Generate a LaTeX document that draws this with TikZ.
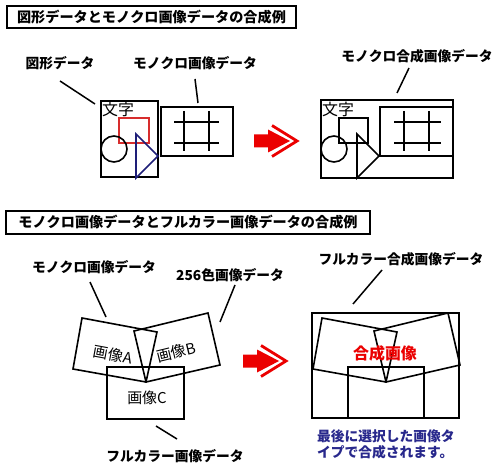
\documentclass[tikz,border=0pt]{standalone}
\usepackage{fontspec}
\setmainfont{Noto Sans CJK JP}
\definecolor{arrowred}{RGB}{235,0,0}
\definecolor{sqred}{RGB}{215,45,45}
\definecolor{navyline}{RGB}{30,30,120}
\definecolor{bluetext}{RGB}{40,40,140}
\tikzset{
  outl/.style={draw=black, line width=1.6bp},
  titlebox/.style={draw=black, line width=1.6bp, inner sep=0pt, font=\fontsize{14.2}{16}\selectfont\bfseries},
  lbl/.style={inner sep=0pt, font=\fontsize{13.8}{16}\selectfont\bfseries},
  imglbl/.style={inner sep=0pt, font=\fontsize{15}{17}\selectfont},
  leader/.style={draw=black, line width=1.5bp},
  gridline/.style={draw=black, line width=2bp},
  bigarrow/.pic={
    \fill[arrowred] (-14,-6.5) -- (0,-6.5) -- (0,-11.5) -- (22,0) -- (0,11.5) -- (0,6.5) -- (-14,6.5) -- cycle;
    \draw[arrowred, line width=2.8bp, line join=miter] (4,-15.5) -- (29,0) -- (4,15.5);
  }
}
\begin{document}
\begin{tikzpicture}[x=1bp,y=-1bp]
\useasboundingbox (0,0) rectangle (500,468);
\fill[white] (0,0) rectangle (500,468);

% ---------- Part 1 ----------
\node[titlebox, minimum width=289bp, minimum height=22bp] (t1) at (151.5,17) {図形データとモノクロ画像データの合成例};

\node[lbl] (lgfx) at (60,63) {図形データ};
\node[lbl] (lmono) at (195,63) {モノクロ画像データ};
\node[lbl] (lmix) at (417,56) {モノクロ合成画像データ};

\coordinate (g1a) at (60,81);  \coordinate (g1b) at (95,104);
\coordinate (m1a) at (195,79); \coordinate (m1b) at (198,103);
\coordinate (x1a) at (409,68); \coordinate (x1b) at (397,93);
\draw[leader] (g1a) -- (g1b);
\draw[leader] (m1a) -- (m1b);
\draw[leader] (x1a) -- (x1b);

% graphic data
\draw[outl] (101,101) rectangle (158,177);
\node[imglbl, anchor=north west, font=\fontsize{16}{18}\selectfont] (moji1) at (102,102) {文字};
\draw[draw=sqred, line width=1.6bp] (119,118) rectangle (149,143);
\draw[outl] (114,149) circle (13);
\draw[draw=navyline, line width=1.6bp] (136,134) -- (158,156) -- (136,178) -- cycle;

% mono image data
\draw[outl] (161,107) rectangle (233,156);
\draw[gridline] (174,122) -- (219,122);
\draw[gridline] (174,143) -- (219,143);
\draw[gridline] (184,111) -- (184,151);
\draw[gridline] (209,111) -- (209,151);

\pic at (268,141) {bigarrow};

% composite mono
\draw[outl] (321,100) rectangle (453,178);
\node[imglbl, anchor=north west, font=\fontsize{16}{18}\selectfont] (moji2) at (322,102) {文字};
\draw[outl] (339,118) rectangle (368,143);
\draw[outl] (334,149) circle (13);
\draw[outl] (357,134) -- (379,156) -- (357,178) -- cycle;
\draw[outl] (380,107) rectangle (453,156);
\draw[gridline] (394,122) -- (441,122);
\draw[gridline] (394,143) -- (441,143);
\draw[gridline] (404,111) -- (404,151);
\draw[gridline] (429,111) -- (429,151);

% ---------- Part 2 ----------
\node[titlebox, minimum width=364bp, minimum height=23bp] (t2) at (188,222.5) {モノクロ画像データとフルカラー画像データの合成例};

\node[lbl] (lmono2) at (94,267) {モノクロ画像データ};
\node[lbl] (l256) at (230,275) {256色画像データ};
\node[lbl] (lfull) at (175,456) {フルカラー画像データ};
\node[lbl] (lfullmix) at (401,259) {フルカラー合成画像データ};

\coordinate (m2a) at (90,282);  \coordinate (m2b) at (106,317);
\coordinate (c2a) at (235,285); \coordinate (c2b) at (220,322);
\coordinate (f2a) at (156,426); \coordinate (f2b) at (177,439);
\coordinate (x2a) at (382,270); \coordinate (x2b) at (353,304);
\draw[leader] (m2a) -- (m2b);
\draw[leader] (c2a) -- (c2b);
\draw[leader] (f2a) -- (f2b);
\draw[leader] (x2a) -- (x2b);

% images A, B, C
\draw[outl] (82,318) -- (157,332) -- (146,382) -- (73,369) -- cycle;
\draw[outl] (134,331) -- (208,313) -- (220,365) -- (146,382) -- cycle;
\draw[outl] (107,367) rectangle (184,419);
\node[imglbl, rotate=-10.6] (ia) at (113,355) {画像A};
\node[imglbl, rotate=13.7] (ib) at (176,352) {画像B};
\node[imglbl] (ic) at (147,398) {画像C};

\pic at (257,361) {bigarrow};

% full color composite
\draw[outl] (312,313) rectangle (459,418);
\draw[outl] (322,318) -- (397,332) -- (386,382) -- (313,369) -- cycle;
\draw[outl] (374,331) -- (448,313) -- (460,365) -- (386,382) -- cycle;
\draw[outl] (348,367) rectangle (424,418);
\node[inner sep=0pt, text=arrowred, font=\fontsize{16}{18}\selectfont\bfseries] (mix) at (385,353) {合成画像};

\node[inner sep=0pt, anchor=north west, align=left, text=bluetext, font=\fontsize{13.8}{16.5}\selectfont\bfseries] (note) at (317,429) {最後に選択した画像タ\\イプで合成されます。};
\end{tikzpicture}
\end{document}
